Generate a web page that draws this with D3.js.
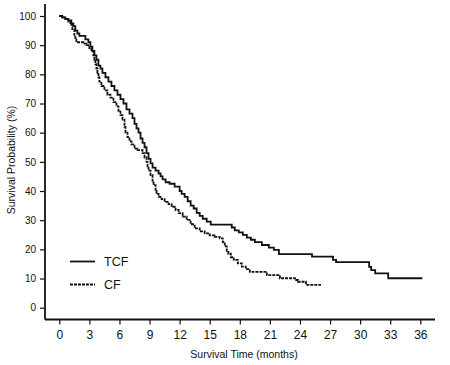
<!DOCTYPE html>
<html><head><meta charset="utf-8">
<script src="https://cdn.jsdelivr.net/npm/d3@7"></script>
<style>body{margin:0;background:#fff}svg{display:block}text{font-family:"Liberation Sans",Arial,sans-serif;fill:#111}</style>
</head><body><svg id="c" width="450" height="365"></svg>
<script>
const xTicks = [0,3,6,9,12,15,18,21,24,27,30,33,36];
const yTicks = [0,10,20,30,40,50,60,70,80,90,100];
const seriesNames = ["TCF","CF"];
const tcfTime = [0,0.3,0.6,0.9,1.2,1.4,1.6,1.8,2.0,2.6,2.9,3.1,3.3,3.5,3.7,3.9,4.1,4.3,4.6,4.9,5.2,5.5,5.8,6.1,6.4,6.7,7.0,7.3,7.5,7.7,7.9,8.1,8.3,8.5,8.7,8.9,9.1,9.3,9.6,9.9,10.1,10.3,10.6,11.0,11.5,12.0,12.2,12.5,12.8,13.1,13.4,13.7,14.0,14.3,14.7,15.1,17.2,17.5,17.9,18.3,18.7,19.1,19.5,20.2,20.9,21.4,21.9,25.2,27.3,27.6,30.9,31.1,31.5,32.8,36.2];
const tcfSurv = [100,99.5,99,98.5,97.5,96.5,95,94,93.2,92,91,89.5,88,86.5,85,83,82,80.5,79,77.5,76,74.5,73,71.5,70,68,66.5,65,63,61.5,60,58,56.5,55,53,51,49.5,48,47,46,45,44,43,42.5,41.5,40,39,38,36.5,35,34,32.5,31.5,30.5,29.5,28.5,27.5,26.5,25.8,25,24,23.3,22.5,21.5,20.6,19.8,18.4,17.5,16.4,15.6,14,12.9,11.8,10.1,10.1];
const cfTime = [0,0.3,0.6,0.9,1.1,1.3,1.5,1.6,1.7,2.4,2.7,3.0,3.2,3.4,3.5,3.6,3.7,3.8,3.9,4.0,4.2,4.5,4.8,5.1,5.4,5.7,5.9,6.1,6.3,6.5,6.6,6.8,7.0,7.2,7.5,7.8,8.3,8.5,8.7,8.8,8.9,9.1,9.3,9.4,9.6,9.7,9.9,10.2,10.5,10.9,11.2,11.6,11.9,12.3,12.7,13.1,13.5,14.0,14.5,15.0,15.5,16.0,16.3,16.5,16.7,16.85,17.1,17.4,17.8,18.2,18.6,19.0,20.7,22.0,23.5,23.8,24.6,26.1];
const cfSurv = [100,99.5,99,98,97,95.5,93.5,92,91,90.5,90,89,88,86.5,85,83.5,82,80.5,79,77.5,76,74.5,73,72,70.5,69,67.5,66,64.5,62,60,58.5,57,56,54.5,54,53,51.5,50,48.5,47,45.5,43.5,42,40,39,38,37.2,36.3,35.5,34.6,33.5,32.4,31.2,30.1,28.6,27.2,26.2,25.5,24.8,24.3,23.8,22.5,21,19.5,18.5,17.3,16.4,15.2,14.1,13.2,12.3,11.2,10.1,9.5,8.9,7.8,7.8];

const svg = d3.select("#c");
const x = d3.scaleLinear().domain([0,36]).range([59.3,420.3]);
const y = d3.scaleLinear().domain([0,100]).range([307.7,16]);
const axX = 45, axY = 319.5;

// axis lines
svg.append("line").attr("x1",axX).attr("x2",axX).attr("y1",4).attr("y2",axY).attr("stroke","#111").attr("stroke-width",1.8);
svg.append("line").attr("x1",axX).attr("x2",435).attr("y1",axY).attr("y2",axY).attr("stroke","#111").attr("stroke-width",1.8);

const gy = svg.append("g").attr("transform",`translate(${axX},0)`)
  .call(d3.axisLeft(y).tickValues(yTicks).tickSize(5).tickSizeOuter(0).tickPadding(4));
gy.select(".domain").remove();
gy.selectAll("line").attr("stroke","#111").attr("stroke-width",1.2);
gy.selectAll("text").style("font-size","10px").attr("fill","#111");

const gx = svg.append("g").attr("transform",`translate(0,${axY})`)
  .call(d3.axisBottom(x).tickValues(xTicks).tickSize(5).tickSizeOuter(0).tickPadding(6));
gx.select(".domain").remove();
gx.selectAll("line").attr("stroke","#111").attr("stroke-width",1.2);
gx.selectAll("text").style("font-size","12px").attr("fill","#111");

svg.append("text").attr("x",244).attr("y",358).attr("text-anchor","middle").style("font-size","10.5px").text("Survival Time (months)");
svg.append("text").attr("transform","translate(15,160) rotate(-90)").attr("text-anchor","middle").style("font-size","10.5px").text("Survival Probability (%)");

const line = d3.line().curve(d3.curveStepAfter).x(d=>x(d[0])).y(d=>y(d[1]));
const tcf = tcfTime.map((t,i)=>[t,tcfSurv[i]]);
const cf = cfTime.map((t,i)=>[t,cfSurv[i]]);
svg.append("path").datum(tcf).attr("d",line).attr("fill","none").attr("stroke","#111").attr("stroke-width",1.8);
svg.append("path").datum(cf).attr("d",line).attr("fill","none").attr("stroke","#111").attr("stroke-width",1.8).attr("stroke-dasharray","3,1");

// legend
const leg = [{name:seriesNames[0],dash:null,y:261.5},{name:seriesNames[1],dash:"3,1",y:284.5}];
leg.forEach(l=>{
  svg.append("line").attr("x1",70).attr("x2",95).attr("y1",l.y).attr("y2",l.y).attr("stroke","#111").attr("stroke-width",1.8).attr("stroke-dasharray",l.dash);
  svg.append("text").attr("x",104).attr("y",l.y+4.5).style("font-size","12.5px").text(l.name);
});
</script></body></html>
